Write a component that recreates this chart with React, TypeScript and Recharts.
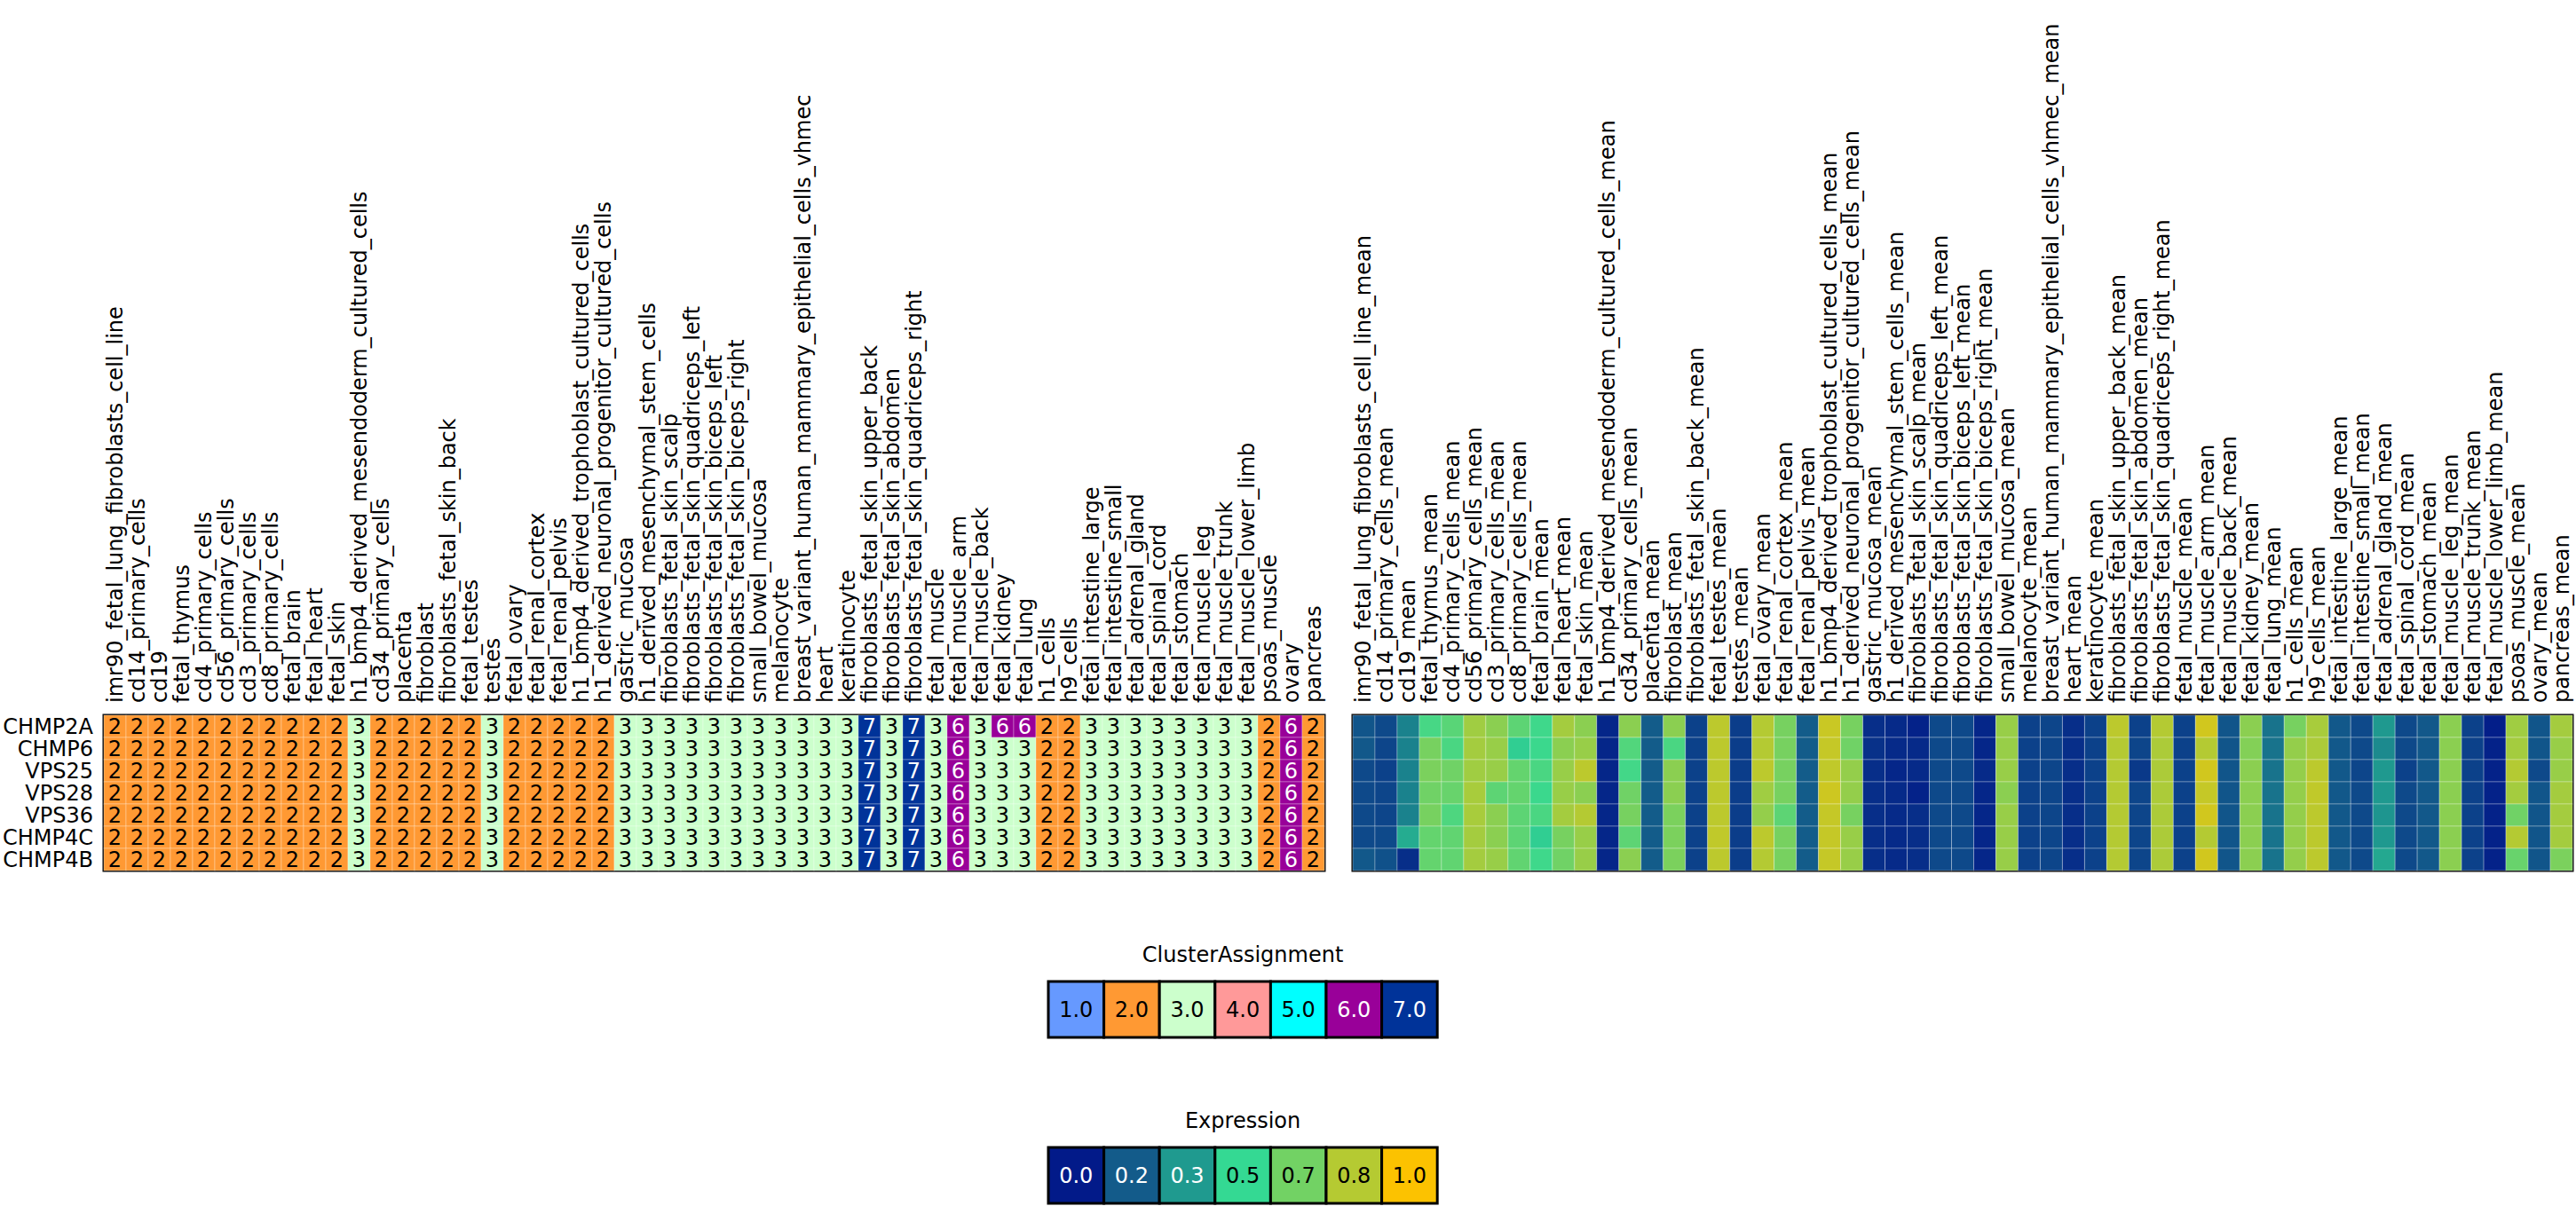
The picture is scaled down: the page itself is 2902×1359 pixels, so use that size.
import { ScatterChart, Scatter, XAxis, YAxis, ReferenceArea } from 'recharts';

const genes = ['CHMP2A', 'CHMP6', 'VPS25', 'VPS28', 'VPS36', 'CHMP4C', 'CHMP4B'];

const samples = [
  'imr90_fetal_lung_fibroblasts_cell_line', 'cd14_primary_cells', 'cd19', 'fetal_thymus',
  'cd4_primary_cells', 'cd56_primary_cells', 'cd3_primary_cells', 'cd8_primary_cells',
  'fetal_brain', 'fetal_heart', 'fetal_skin', 'h1_bmp4_derived_mesendoderm_cultured_cells',
  'cd34_primary_cells', 'placenta', 'fibroblast', 'fibroblasts_fetal_skin_back', 'fetal_testes',
  'testes', 'fetal_ovary', 'fetal_renal_cortex', 'fetal_renal_pelvis',
  'h1_bmp4_derived_trophoblast_cultured_cells', 'h1_derived_neuronal_progenitor_cultured_cells',
  'gastric_mucosa', 'h1_derived_mesenchymal_stem_cells', 'fibroblasts_fetal_skin_scalp',
  'fibroblasts_fetal_skin_quadriceps_left', 'fibroblasts_fetal_skin_biceps_left',
  'fibroblasts_fetal_skin_biceps_right', 'small_bowel_mucosa', 'melanocyte',
  'breast_variant_human_mammary_epithelial_cells_vhmec', 'heart', 'keratinocyte',
  'fibroblasts_fetal_skin_upper_back', 'fibroblasts_fetal_skin_abdomen',
  'fibroblasts_fetal_skin_quadriceps_right', 'fetal_muscle', 'fetal_muscle_arm',
  'fetal_muscle_back', 'fetal_kidney', 'fetal_lung', 'h1_cells', 'h9_cells',
  'fetal_intestine_large', 'fetal_intestine_small', 'fetal_adrenal_gland', 'fetal_spinal_cord',
  'fetal_stomach', 'fetal_muscle_leg', 'fetal_muscle_trunk', 'fetal_muscle_lower_limb',
  'psoas_muscle', 'ovary', 'pancreas',
];

// cluster assignment (CHMP2A differs at fetal_kidney / fetal_lung)
const clusterCHMP2A = [
  2, 2, 2, 2, 2, 2, 2, 2, 2, 2, 2, 3, 2, 2, 2, 2, 2, 3, 2, 2, 2, 2, 2, 3, 3, 3, 3, 3,
  3, 3, 3, 3, 3, 3, 7, 3, 7, 3, 6, 3, 6, 6, 2, 2, 3, 3, 3, 3, 3, 3, 3, 3, 2, 6, 2,
];
const clusterOthers = [
  2, 2, 2, 2, 2, 2, 2, 2, 2, 2, 2, 3, 2, 2, 2, 2, 2, 3, 2, 2, 2, 2, 2, 3, 3, 3, 3, 3,
  3, 3, 3, 3, 3, 3, 7, 3, 7, 3, 6, 3, 3, 3, 2, 2, 3, 3, 3, 3, 3, 3, 3, 3, 2, 6, 2,
];

const exprCHMP2A = [
  0.15, 0.12, 0.27, 0.55, 0.6, 0.78, 0.73, 0.61, 0.53, 0.79, 0.73, 0.03, 0.73, 0.17,
  0.73, 0.1, 0.85, 0.09, 0.83, 0.68, 0.17, 0.88, 0.68, 0.05, 0.04, 0.02, 0.12, 0.12,
  0.03, 0.76, 0.1, 0.11, 0.05, 0.1, 0.85, 0.1, 0.83, 0.1, 0.9, 0.15, 0.73, 0.23, 0.68,
  0.8, 0.16, 0.12, 0.33, 0.12, 0.16, 0.73, 0.1, 0.01, 0.78, 0.15, 0.79,
];
const exprCHMP6 = [
  0.16, 0.11, 0.27, 0.68, 0.56, 0.79, 0.76, 0.47, 0.52, 0.73, 0.76, 0.03, 0.58, 0.17,
  0.56, 0.1, 0.85, 0.09, 0.83, 0.68, 0.17, 0.87, 0.66, 0.06, 0.04, 0.04, 0.12, 0.12,
  0.03, 0.76, 0.1, 0.11, 0.05, 0.1, 0.83, 0.11, 0.81, 0.1, 0.83, 0.15, 0.71, 0.23, 0.75,
  0.81, 0.16, 0.12, 0.29, 0.12, 0.16, 0.73, 0.1, 0.02, 0.79, 0.15, 0.76,
];
const exprVPS25 = [
  0.12, 0.1, 0.27, 0.69, 0.66, 0.78, 0.76, 0.63, 0.56, 0.76, 0.85, 0.03, 0.54, 0.17,
  0.73, 0.1, 0.85, 0.09, 0.85, 0.68, 0.17, 0.86, 0.75, 0.05, 0.03, 0.04, 0.12, 0.12,
  0.04, 0.76, 0.1, 0.11, 0.05, 0.1, 0.83, 0.08, 0.81, 0.1, 0.9, 0.15, 0.73, 0.23, 0.75,
  0.85, 0.16, 0.11, 0.33, 0.1, 0.16, 0.73, 0.1, 0.02, 0.83, 0.12, 0.76,
];
const exprVPS28 = [
  0.12, 0.11, 0.27, 0.66, 0.64, 0.8, 0.61, 0.63, 0.52, 0.76, 0.73, 0.03, 0.66, 0.17,
  0.73, 0.1, 0.85, 0.09, 0.78, 0.68, 0.17, 0.89, 0.75, 0.05, 0.04, 0.02, 0.12, 0.12,
  0.03, 0.73, 0.1, 0.11, 0.05, 0.1, 0.83, 0.11, 0.81, 0.1, 0.87, 0.15, 0.73, 0.23, 0.75,
  0.86, 0.16, 0.12, 0.33, 0.12, 0.16, 0.73, 0.1, 0.02, 0.79, 0.15, 0.79,
];
const exprVPS36 = [
  0.12, 0.11, 0.27, 0.68, 0.57, 0.8, 0.73, 0.61, 0.56, 0.79, 0.83, 0.03, 0.68, 0.17,
  0.69, 0.1, 0.85, 0.09, 0.75, 0.61, 0.17, 0.87, 0.68, 0.05, 0.04, 0.05, 0.12, 0.12,
  0.03, 0.76, 0.1, 0.11, 0.05, 0.1, 0.83, 0.11, 0.81, 0.1, 0.9, 0.15, 0.73, 0.23, 0.75,
  0.85, 0.16, 0.12, 0.32, 0.12, 0.16, 0.73, 0.1, 0.02, 0.66, 0.15, 0.79,
];
const exprCHMP4C = [
  0.12, 0.12, 0.38, 0.63, 0.62, 0.79, 0.73, 0.61, 0.47, 0.68, 0.76, 0.03, 0.61, 0.17,
  0.69, 0.1, 0.86, 0.09, 0.85, 0.68, 0.17, 0.87, 0.76, 0.05, 0.04, 0.05, 0.12, 0.12,
  0.03, 0.76, 0.1, 0.11, 0.05, 0.1, 0.83, 0.11, 0.81, 0.1, 0.83, 0.15, 0.73, 0.23, 0.75,
  0.85, 0.16, 0.12, 0.33, 0.12, 0.16, 0.73, 0.1, 0.02, 0.83, 0.15, 0.79,
];
const exprCHMP4B = [
  0.16, 0.14, 0.05, 0.63, 0.62, 0.79, 0.76, 0.62, 0.53, 0.66, 0.76, 0.03, 0.73, 0.17,
  0.69, 0.1, 0.85, 0.09, 0.83, 0.68, 0.17, 0.87, 0.76, 0.05, 0.04, 0.05, 0.12, 0.12,
  0.03, 0.76, 0.1, 0.11, 0.05, 0.1, 0.83, 0.11, 0.81, 0.1, 0.9, 0.15, 0.73, 0.23, 0.75,
  0.85, 0.16, 0.12, 0.37, 0.12, 0.16, 0.73, 0.1, 0.02, 0.64, 0.15, 0.69,
];

const clusterLegend = [1, 2, 3, 4, 5, 6, 7];
const exprLegendLabels = ['0.0', '0.2', '0.3', '0.5', '0.7', '0.8', '1.0'];

const clusterRows = [clusterCHMP2A, clusterOthers, clusterOthers, clusterOthers, clusterOthers, clusterOthers, clusterOthers];
const exprRows = [exprCHMP2A, exprCHMP6, exprVPS25, exprVPS28, exprVPS36, exprCHMP4C, exprCHMP4B];

const clusterColors: Record<number, string> = {
  1: '#6699ff', 2: '#ff9933', 3: '#ccffcc', 4: '#ff9999', 5: '#00ffff', 6: '#990099', 7: '#003399',
};
const exprStops = ['#021a89', '#135b8a', '#1f9a8f', '#34d993', '#72d264', '#b5ca32', '#fcc200'];

function exprColor(v: number) {
  const t = Math.max(0, Math.min(1, v)) * (exprStops.length - 1);
  const i = Math.min(Math.floor(t), exprStops.length - 2);
  const f = t - i;
  const a = exprStops[i], b = exprStops[i + 1];
  const ch = (s: string, k: number) => parseInt(s.slice(1 + k * 2, 3 + k * 2), 16);
  const c = [0, 1, 2].map((k) => Math.round(ch(a, k) + (ch(b, k) - ch(a, k)) * f));
  return `rgb(${c[0]},${c[1]},${c[2]})`;
}

const FONT = '"DejaVu Sans", sans-serif';
const FS = 24;
const CELL = 25;
const nCols = samples.length;
const nRows = genes.length;
const colTicks = samples.map((_, i) => i + 0.5);
const rowTicks = genes.map((_, i) => i + 0.5);

const clusterData = clusterRows.flatMap((row, r) => row.map((v, c) => ({ x: c + 0.5, y: r + 0.5, v })));
const exprData = exprRows.flatMap((row, r) => row.map((v, c) => ({ x: c + 0.5, y: r + 0.5, v })));

const ClusterCell = (p: any) => {
  const { cx, cy, payload } = p;
  const v = payload.v;
  return (
    <g>
      <rect x={cx - CELL / 2} y={cy - CELL / 2} width={CELL} height={CELL} fill={clusterColors[v]}
        stroke="rgba(255,255,255,0.3)" strokeWidth={1} />
      <text x={cx} y={cy} textAnchor="middle" dominantBaseline="central" fontSize={FS} fontFamily={FONT}
        fill={v >= 6 ? '#ffffff' : '#000000'}>{v}</text>
    </g>
  );
};

const ExprCell = (p: any) => {
  const { cx, cy, payload } = p;
  return (
    <rect x={cx - CELL / 2} y={cy - CELL / 2} width={CELL} height={CELL} fill={exprColor(payload.v)}
      stroke="rgba(255,255,255,0.3)" strokeWidth={1} />
  );
};

const colTick = (suffix: string) => (p: any) => {
  const { x, y, payload } = p;
  const name = samples[Math.floor(payload.value)] + suffix;
  return (
    <text x={x} y={y} transform={`rotate(-90, ${x}, ${y})`} textAnchor="start" dominantBaseline="central"
      fontSize={FS} fontFamily={FONT} fill="#000">{name}</text>
  );
};

const rowTick = (p: any) => {
  const { x, y, payload } = p;
  return (
    <text x={x} y={y} textAnchor="end" dominantBaseline="central" fontSize={FS} fontFamily={FONT} fill="#000">
      {genes[Math.floor(payload.value)]}
    </text>
  );
};

function Legend({ title, labels, colors, textColors, left, top }: any) {
  const w = 62.6;
  const h = 63;
  return (
    <svg style={{ position: 'absolute', left, top }} width={470} height={140}>
      <text x={12 + (w * labels.length) / 2} y={32} textAnchor="middle" fontSize={FS} fontFamily={FONT}>{title}</text>
      {labels.map((l: string, i: number) => (
        <g key={i}>
          <rect x={12 + i * w} y={54} width={w} height={h} fill={colors[i]} stroke="#000" strokeWidth={3} />
          <text x={12 + i * w + w / 2} y={54 + h / 2} textAnchor="middle" dominantBaseline="central"
            fontSize={FS} fontFamily={FONT} fill={textColors[i]}>{l}</text>
        </g>
      ))}
    </svg>
  );
}

export default function App() {
  return (
    <div style={{ position: 'absolute', left: 0, top: 0, width: 2902, height: 1359, background: '#fff', overflow: 'hidden' }}>
      <div style={{ position: 'absolute', left: 0, top: 0 }}>
        <ScatterChart width={1500} height={1000} margin={{ top: 0, right: 8, bottom: 19, left: 0 }}>
          <XAxis type="number" dataKey="x" domain={[0, nCols]} ticks={colTicks} orientation="top" height={806}
            interval={0} tickSize={0} tickMargin={14} axisLine={false} tickLine={false} tick={colTick('')} />
          <YAxis type="number" dataKey="y" domain={[0, nRows]} ticks={rowTicks} reversed width={117}
            interval={0} tickSize={0} tickMargin={12} axisLine={false} tickLine={false} tick={rowTick} />
          <Scatter data={clusterData} shape={ClusterCell} isAnimationActive={false} />
          <ReferenceArea x1={0} x2={nCols} y1={0} y2={nRows} fill="none" stroke="#000" strokeWidth={3} ifOverflow="visible" />
        </ScatterChart>
      </div>
      <div style={{ position: 'absolute', left: 1500, top: 0 }}>
        <ScatterChart width={1402} height={1000} margin={{ top: 0, right: 4, bottom: 19, left: 24 }}>
          <XAxis type="number" dataKey="x" domain={[0, nCols]} ticks={colTicks} orientation="top" height={806}
            interval={0} tickSize={0} tickMargin={14} axisLine={false} tickLine={false} tick={colTick('_mean')} />
          <YAxis type="number" dataKey="y" domain={[0, nRows]} reversed hide />
          <Scatter data={exprData} shape={ExprCell} isAnimationActive={false} />
          <ReferenceArea x1={0} x2={nCols} y1={0} y2={nRows} fill="none" stroke="#000" strokeWidth={3} ifOverflow="visible" />
        </ScatterChart>
      </div>
      <Legend title="ClusterAssignment" labels={clusterLegend.map((v) => v.toFixed(1))}
        colors={clusterLegend.map((v) => clusterColors[v])}
        textColors={clusterLegend.map((v) => (v >= 6 ? '#fff' : '#000'))} left={1169} top={1052} />
      <Legend title="Expression" labels={exprLegendLabels} colors={exprStops}
        textColors={exprLegendLabels.map((_, i) => (i < 3 ? '#fff' : '#000'))} left={1169} top={1239} />
    </div>
  );
}
